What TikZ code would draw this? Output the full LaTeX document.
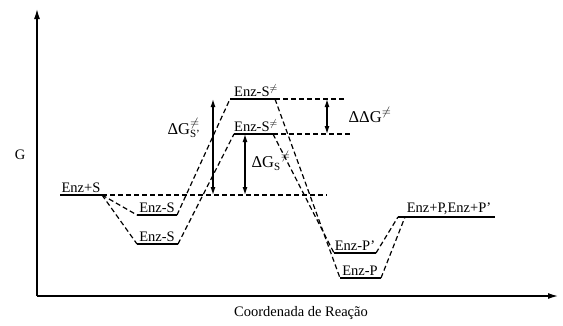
\documentclass[tikz,border=0pt]{standalone}
\usepackage{fontspec}
\setmainfont{Liberation Serif}
\usetikzlibrary{arrows.meta}
\newcommand{\bigfs}{\fontsize{16.5}{18}\selectfont}

\begin{document}
\begin{tikzpicture}[x=1pt,y=-1pt,
    every node/.style={font=\fontsize{14.5}{16}\selectfont},
    level/.style={line width=1.3pt},
    route/.style={line width=1.2pt, dash pattern=on 5pt off 3pt},
    gap/.style={line width=1.2pt, {Latex[length=8pt,width=5pt]}-{Latex[length=8pt,width=5pt]}},
    lbl/.style={anchor=south, inner sep=1pt}]
            \useasboundingbox (0,0) rectangle (563,325);

            % axes
            \coordinate (o) at (37,296);
            \coordinate (ytop) at (37,9);
            \coordinate (xend) at (558,296);
            \draw[line width=1.3pt,-{Latex[length=10pt,width=6pt]}] (o) -- (ytop);
            \draw[line width=1.3pt,-{Latex[length=10pt,width=6pt]}] (o) -- (xend);
            \node (g) at (20,155) {G};
            \node (xlab) at (301,313) {Coordenada de Reação};

            % energy levels
            \coordinate (s1) at (60,195);   \coordinate (s2) at (102,195);
            \coordinate (a1) at (137,215);  \coordinate (a2) at (177,215);
            \coordinate (b1) at (137,244);  \coordinate (b2) at (178,244);
            \coordinate (t1) at (230,99);   \coordinate (t2) at (275,99);
            \coordinate (u1) at (234,134);  \coordinate (u2) at (273,134);
            \coordinate (p1) at (334,253);  \coordinate (p2) at (376,253);
            \coordinate (q1) at (340,278);  \coordinate (q2) at (381,278);
            \coordinate (f1) at (398,217);  \coordinate (f0) at (405,217);
            \coordinate (f2) at (495,217);
            \foreach \l/\r in {s1/s2,a1/a2,b1/b2,t1/t2,u1/u2,p1/p2,q1/q2,f1/f2}
              \draw[level] (\l) -- (\r);

            % reaction paths
            \draw[route] (s2) -- (a1) (a2) -- (t1) (t2) -- (q1) (q2) -- (f0);
            \draw[route] (s2) -- (b1) (b2) -- (u1) (u2) -- (p1) (p2) -- (f1);

            % reference lines
            \coordinate (h0) at (327,195);
            \coordinate (h1) at (345,99);
            \coordinate (h2) at (350,134);
            \draw[route] (s2) -- (h0);
            \draw[route] (t2) -- (h1);
            \draw[route] (u2) -- (h2);

            % energy gaps
            \coordinate (d1t) at (213,99);  \coordinate (d1b) at (213,195);
            \coordinate (d2t) at (245,134); \coordinate (d2b) at (245,195);
            \coordinate (d3t) at (327,99);  \coordinate (d3b) at (327,134);
            \draw[gap] (d1t) -- (d1b);
            \draw[gap] (d2t) -- (d2b);
            \draw[gap] (d3t) -- (d3b);

            % labels
            \node[lbl] (ls) at (81,194) {Enz+S};
            \node[lbl] (la) at (157,214) {Enz-S};
            \node[lbl] (lb) at (157,243) {Enz-S};
            \node[lbl] (lt) at (256,98) {Enz-S$^{\neq}$};
            \node[lbl] (lu) at (256,133) {Enz-S$^{\neq}$};
            \node[lbl] (lp) at (355,252) {Enz-P'};
            \node[lbl] (lq) at (360,277) {Enz-P};
            \node[lbl] (lf) at (449,216) {Enz+P,Enz+P'};
            \node (gs1) at (184,128) {\bigfs ΔG$_{\mbox{\fontsize{11}{12}\selectfont S'}}^{\neq}$};
            \node (gs2) at (271,161) {\bigfs ΔG$_{\mbox{\fontsize{11}{12}\selectfont S}}^{\;\;\neq}$};
            \node (gs3) at (370,115) {\bigfs ΔΔG$^{\neq}$};
        \end{tikzpicture}
\end{document}
